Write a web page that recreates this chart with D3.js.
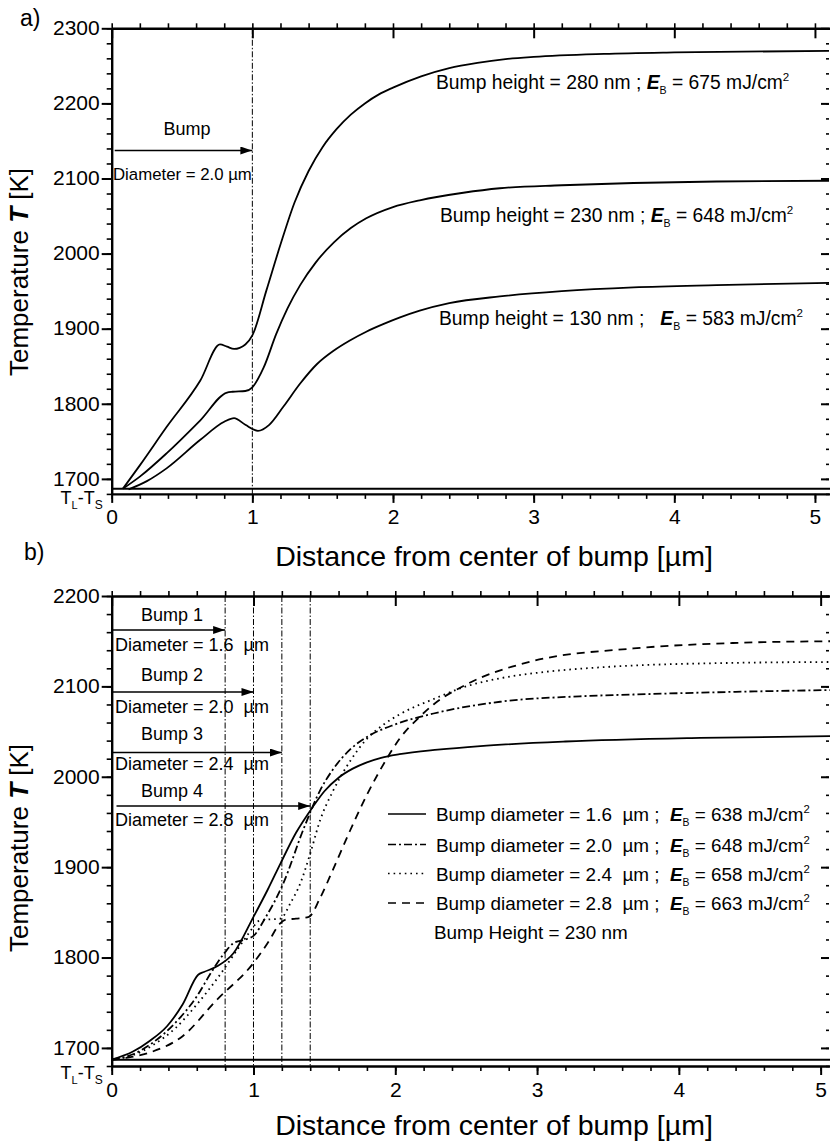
<!DOCTYPE html>
<html><head><meta charset="utf-8">
<script src="https://cdn.jsdelivr.net/npm/d3@7"></script>
<style>
html,body{margin:0;padding:0;background:#fff;}
svg{display:block;font-family:"Liberation Sans",Arial,Helvetica,sans-serif;}
text{white-space:pre;}
</style></head><body>
<svg id="chart" width="830" height="1144"></svg>
<script>
// ---------- data ----------
const xTicks = [0, 1, 2, 3, 4, 5];
const yTicksA = [1700, 1800, 1900, 2000, 2100, 2200, 2300];
const yTicksB = [1700, 1800, 1900, 2000, 2100, 2200];
const tLiquidSolid = 1687;          // T_L - T_S level [K]

// (a) bump diameter 2.0 um, three bump heights
const h280X = [0.08, 0.2, 0.39, 0.63, 0.77, 0.82, 0.87, 0.95, 1.0, 1.1, 1.2, 1.3, 1.4, 1.5, 1.6, 1.7, 1.8, 1.9, 2.0, 2.2, 2.4, 2.6, 2.8, 3.0, 3.5, 4.0, 5.1];
const h280T = [1687, 1718, 1769, 1831, 1879, 1876, 1873, 1879, 1891, 1951, 2012, 2068, 2110, 2142, 2166, 2185, 2200, 2212, 2221, 2236, 2247, 2254, 2259, 2262, 2266, 2268, 2270];
const h230X = [0.08, 0.2, 0.39, 0.63, 0.82, 0.86, 0.95, 1.0, 1.08, 1.17, 1.25, 1.34, 1.45, 1.58, 1.7, 1.81, 2.0, 2.19, 2.5, 2.76, 3.2, 3.71, 4.3, 5.1];
const h230T = [1687, 1703, 1734, 1778, 1815, 1816, 1817, 1822, 1848, 1893, 1927, 1958, 1988, 2015, 2034, 2047, 2062, 2071, 2081, 2087, 2091, 2094, 2096, 2097];
const h130X = [0.12, 0.25, 0.39, 0.63, 0.8, 0.87, 0.95, 1.04, 1.12, 1.22, 1.34, 1.46, 1.58, 1.69, 1.81, 1.93, 2.05, 2.19, 2.4, 2.76, 3.2, 3.71, 4.3, 5.1];
const h130T = [1686, 1697, 1714, 1752, 1776, 1781, 1772, 1764, 1772, 1796, 1827, 1853, 1871, 1884, 1896, 1906, 1915, 1924, 1934, 1943, 1950, 1955, 1958, 1961];
const seriesA = [
  {x: h280X, t: h280T},
  {x: h230X, t: h230T},
  {x: h130X, t: h130T}
];
const labelsA = [
  {h: "280", sep: " ; ", e: "675"},
  {h: "230", sep: " ; ", e: "648"},
  {h: "130", sep: " ;   ", e: "583"}
];
const bumpA = {d: 1.0, label: "Bump", dia: "Diameter = 2.0 \u00b5m"};

// (b) bump height 230 nm, four bump diameters
const d16X = [0.0, 0.15, 0.27, 0.39, 0.5, 0.61, 0.65, 0.74, 0.86, 1.0, 1.1, 1.19, 1.3, 1.42, 1.5, 1.6, 1.7, 1.8, 1.9, 2.03, 2.3, 2.6, 3.2, 4.15, 5.1];
const d16T = [1687, 1696, 1708, 1724, 1748, 1781, 1784, 1790, 1805, 1845, 1875, 1904, 1938, 1967, 1984, 1999, 2009, 2016, 2021, 2025, 2030, 2034, 2039, 2043, 2045];
const d20X = [0.0, 0.15, 0.3, 0.45, 0.6, 0.7, 0.8, 0.86, 0.92, 1.0, 1.08, 1.21, 1.35, 1.47, 1.56, 1.68, 1.8, 2.0, 2.27, 2.74, 3.3, 3.68, 4.4, 5.1];
const d20T = [1687, 1693, 1707, 1728, 1757, 1783, 1806, 1816, 1819, 1824, 1843, 1882, 1941, 1985, 2008, 2030, 2044, 2058, 2070, 2083, 2089, 2091, 2094, 2096];
const d24X = [0.0, 0.15, 0.3, 0.45, 0.6, 0.75, 0.9, 1.0, 1.03, 1.1, 1.19, 1.26, 1.33, 1.4, 1.47, 1.56, 1.68, 1.8, 1.92, 2.03, 2.27, 2.5, 2.74, 3.0, 3.44, 4.38, 5.1];
const d24T = [1687, 1692, 1704, 1722, 1748, 1778, 1812, 1834, 1840, 1842, 1843, 1860, 1882, 1915, 1952, 1984, 2017, 2042, 2058, 2069, 2086, 2100, 2109, 2115, 2121, 2126, 2127];
const d28X = [0.0, 0.1, 0.27, 0.5, 0.74, 1.0, 1.1, 1.19, 1.23, 1.3, 1.39, 1.47, 1.56, 1.68, 1.8, 1.94, 2.03, 2.17, 2.27, 2.5, 2.97, 3.68, 4.38, 5.1];
const d28T = [1687, 1689, 1695, 1713, 1753, 1794, 1816, 1838, 1842, 1843, 1845, 1866, 1897, 1940, 1980, 2020, 2042, 2066, 2080, 2102, 2128, 2142, 2148, 2150];
const diametersB = ["1.6", "2.0", "2.4", "2.8"];
const energiesB = ["638", "648", "658", "663"];
const seriesB = [
  {x: d16X, t: d16T, dash: null},
  {x: d20X, t: d20T, dash: "8,3,2,3"},
  {x: d24X, t: d24T, dash: "1.6,4"},
  {x: d28X, t: d28T, dash: "8,6"}
];
const bumpEdgesB = [0.8, 1.0, 1.2, 1.4];   // bump radii [um]

// ---------- drawing ----------
const svg = d3.select("#chart");
svg.append("rect").attr("width", 830).attr("height", 1144).attr("fill", "#fff");

const defs = svg.append("defs");
defs.append("marker").attr("id", "arrow")
  .attr("viewBox", "0 0 12 8").attr("refX", 12).attr("refY", 4)
  .attr("markerWidth", 12).attr("markerHeight", 8)
  .attr("markerUnits", "userSpaceOnUse").attr("orient", "auto")
  .append("path").attr("d", "M0,0 L12,4 L0,8 Z").attr("fill", "#000");

const FONT_TICK = 21;
const FONT_TITLE = 28.5;

function panel(opts) {
  const {x, y, yTicks, id} = opts;
  const [x0, x1] = x.range();
  const [yb, yt] = y.range();
  const g = svg.append("g");

  g.append("clipPath").attr("id", id).append("rect")
    .attr("x", x0).attr("y", yt).attr("width", x1 - x0).attr("height", yb - yt);

  const minorX = d3.range(0, x.domain()[1] + 1e-9, 0.2);
  const minorY = d3.range(y.domain()[0], y.domain()[1] + 1e-9, 20);

  // minor ticks
  const ax = (axis, tr) => {
    const a = g.append("g").attr("transform", tr).call(axis);
    a.select(".domain").remove();
    a.selectAll("line").attr("stroke", "#000").attr("stroke-width", 1.6);
    a.selectAll("text").remove();
    return a;
  };
  ax(d3.axisBottom(x).tickValues(minorX).tickSize(5), `translate(0,${yb})`);
  ax(d3.axisBottom(x).tickValues(minorX).tickSize(-5), `translate(0,${yt})`);
  ax(d3.axisLeft(y).tickValues(minorY).tickSize(5), `translate(${x0},0)`);
  ax(d3.axisLeft(y).tickValues(minorY).tickSize(3).tickSizeOuter(0), `translate(${x1 - 1},0)`);

  // major ticks with labels
  const bottom = g.append("g").attr("transform", `translate(0,${yb})`)
    .call(d3.axisBottom(x).tickValues(xTicks).tickSize(9).tickSizeOuter(0).tickPadding(6).tickFormat(d3.format("d")));
  const left = g.append("g").attr("transform", `translate(${x0},0)`)
    .call(d3.axisLeft(y).tickValues(yTicks).tickSize(10).tickSizeOuter(0).tickPadding(2).tickFormat(d3.format("d")));
  const top = g.append("g").attr("transform", `translate(0,${yt})`)
    .call(d3.axisTop(x).tickValues(xTicks).tickSize(-10).tickSizeOuter(0).tickFormat(""));
  const right = g.append("g").attr("transform", `translate(${x1 - 1},0)`)
    .call(d3.axisLeft(y).tickValues(yTicks).tickSize(8).tickSizeOuter(0).tickFormat(""));
  right.select(".domain").remove();
  [bottom, left, top].forEach(a => {
    a.select(".domain").attr("stroke", "#000").attr("stroke-width", 2.4);
  });
  [bottom, left, top, right].forEach(a => {
    a.selectAll(".tick line").attr("stroke", "#000").attr("stroke-width", 2);
    a.selectAll("text").attr("fill", "#000").attr("font-size", FONT_TICK)
      .attr("font-family", "Liberation Sans, Arial, sans-serif");
  });
  left.selectAll("text").attr("dy", "0.3em");
  bottom.selectAll("text").attr("dy", "0.74em");

  // T_L - T_S level
  g.append("line").attr("x1", x0).attr("x2", x1)
    .attr("y1", y(tLiquidSolid)).attr("y2", y(tLiquidSolid))
    .attr("stroke", "#000").attr("stroke-width", 2);
  const tl = g.append("text").attr("x", x0 - 9).attr("y", opts.tlBase)
    .attr("text-anchor", "end").attr("font-size", 18).attr("fill", "#000");
  tl.append("tspan").text("T");
  tl.append("tspan").attr("font-size", 11).attr("dy", 5).text("L");
  tl.append("tspan").attr("dy", -5).text("-T");
  tl.append("tspan").attr("font-size", 12).attr("dy", 5).text("S");

  // axis titles
  g.append("text").attr("x", opts.xTitle[0]).attr("y", opts.xTitle[1])
    .attr("text-anchor", "middle").attr("font-size", FONT_TITLE).attr("fill", "#000")
    .text("Distance from center of bump [\u00b5m]");
  const yt2 = g.append("text")
    .attr("transform", `translate(${opts.yTitle[0]},${opts.yTitle[1]}) rotate(-90)`)
    .attr("text-anchor", "middle").attr("font-size", 26).attr("fill", "#000");
  yt2.append("tspan").text("Temperature ");
  yt2.append("tspan").attr("font-weight", "bold").attr("font-style", "italic").text("T");
  yt2.append("tspan").text(" [K]");

  g.append("text").attr("x", opts.tag[0]).attr("y", opts.tag[1])
    .attr("font-size", 23).attr("fill", "#000").text(opts.tagText);

  return g;
}

function energyText(sel, prefix, value) {
  sel.append("tspan").text(prefix);
  sel.append("tspan").attr("font-weight", "bold").attr("font-style", "italic").text("E");
  sel.append("tspan").attr("font-size", "0.55em").attr("dy", 5).text("B");
  sel.append("tspan").attr("dy", -5).text(` = ${value} mJ/cm`);
  sel.append("tspan").attr("font-size", "0.6em").attr("dy", -8).text("2");
}

// ---------- panel (a) ----------
const xA = d3.scaleLinear().domain([0, 5.107]).range([111.7, 830]);
const yA = d3.scaleLinear().domain([1680, 2300]).range([493.9, 28.3]);
const gA = panel({x: xA, y: yA, yTicks: yTicksA, id: "clipA", tlBase: 504,
  xTitle: [494, 566], yTitle: [28, 272], tag: [20, 26], tagText: "a)"});

const lineA = d3.line().x((d) => xA(d[0])).y((d) => yA(d[1])).curve(d3.curveMonotoneX);
gA.append("line").attr("x1", xA(bumpA.d)).attr("x2", xA(bumpA.d))
  .attr("y1", yA(2300)).attr("y2", yA(1680))
  .attr("stroke", "#000").attr("stroke-width", 1).attr("stroke-dasharray", "6,2,1.5,2");
const cA = gA.append("g").attr("clip-path", "url(#clipA)");
seriesA.forEach(s => {
  cA.append("path").datum(s.x.map((v, i) => [v, s.t[i]]))
    .attr("d", lineA).attr("fill", "none").attr("stroke", "#000").attr("stroke-width", 1.8);
});
const annotA = [[436, 89], [440, 222], [439, 325]];
labelsA.forEach((l, i) => {
  const t = gA.append("text").attr("x", annotA[i][0]).attr("y", annotA[i][1])
    .attr("font-size", 19.3).attr("fill", "#000");
  energyText(t, `Bump height = ${l.h} nm${l.sep}`, l.e);
});
gA.append("line").attr("x1", xA(0) + 3).attr("x2", xA(bumpA.d))
  .attr("y1", 150.5).attr("y2", 150.5).attr("stroke", "#000").attr("stroke-width", 1.6)
  .attr("marker-end", "url(#arrow)");
gA.append("text").attr("x", 187).attr("y", 135).attr("text-anchor", "middle")
  .attr("font-size", 18).attr("fill", "#000").text(bumpA.label);
gA.append("text").attr("x", 113).attr("y", 180)
  .attr("font-size", 16.8).attr("fill", "#000").text(bumpA.dia);

// ---------- panel (b) ----------
const xB = d3.scaleLinear().domain([0, 5.066]).range([111.7, 830]);
const yB = d3.scaleLinear().domain([1680, 2200]).range([1066, 596]);
const gB = panel({x: xB, y: yB, yTicks: yTicksB, id: "clipB", tlBase: 1079,
  xTitle: [494, 1135], yTitle: [28, 848], tag: [24, 560], tagText: "b)"});

bumpEdgesB.forEach(d => {
  gB.append("line").attr("x1", xB(d)).attr("x2", xB(d))
    .attr("y1", yB(2200)).attr("y2", yB(1680))
    .attr("stroke", "#000").attr("stroke-width", 1).attr("stroke-dasharray", "6,2,1.5,2");
});
const lineB = d3.line().x((d) => xB(d[0])).y((d) => yB(d[1])).curve(d3.curveMonotoneX);
const cB = gB.append("g").attr("clip-path", "url(#clipB)");
seriesB.forEach(s => {
  cB.append("path").datum(s.x.map((v, i) => [v, s.t[i]]))
    .attr("d", lineB).attr("fill", "none").attr("stroke", "#000").attr("stroke-width", 1.8)
    .attr("stroke-dasharray", s.dash);
});

// bump arrows
const arrowY = [630, 692, 752.5, 806];
const labelY = [621, 681, 740, 797];
const diaY = [651, 713, 770, 826];
const arrowStart = [112, 112, 112, 116.5];
bumpEdgesB.forEach((d, i) => {
  gB.append("line").attr("x1", arrowStart[i]).attr("x2", xB(d))
    .attr("y1", arrowY[i]).attr("y2", arrowY[i]).attr("stroke", "#000").attr("stroke-width", 1.6)
    .attr("marker-end", "url(#arrow)");
  gB.append("text").attr("x", 172).attr("y", labelY[i]).attr("text-anchor", "middle")
    .attr("font-size", 18).attr("fill", "#000").text(`Bump ${i + 1}`);
  gB.append("text").attr("x", 115).attr("y", diaY[i])
    .attr("font-size", 18).attr("fill", "#000").text(`Diameter = ${diametersB[i]}  \u00b5m`);
});

// legend
const legY = [821, 851.5, 880.5, 910];
seriesB.forEach((s, i) => {
  gB.append("line").attr("x1", 388).attr("x2", 426)
    .attr("y1", legY[i] - 7).attr("y2", legY[i] - 7)
    .attr("stroke", "#000").attr("stroke-width", 1.6).attr("stroke-dasharray", s.dash);
  const t = gB.append("text").attr("x", 436).attr("y", legY[i])
    .attr("font-size", 18.9).attr("fill", "#000");
  energyText(t, `Bump diameter = ${diametersB[i]}  \u00b5m ;  `, energiesB[i]);
});
gB.append("text").attr("x", 434).attr("y", 938.5).attr("font-size", 18.9).attr("fill", "#000")
  .text("Bump Height = 230 nm");
</script>
</body></html>
